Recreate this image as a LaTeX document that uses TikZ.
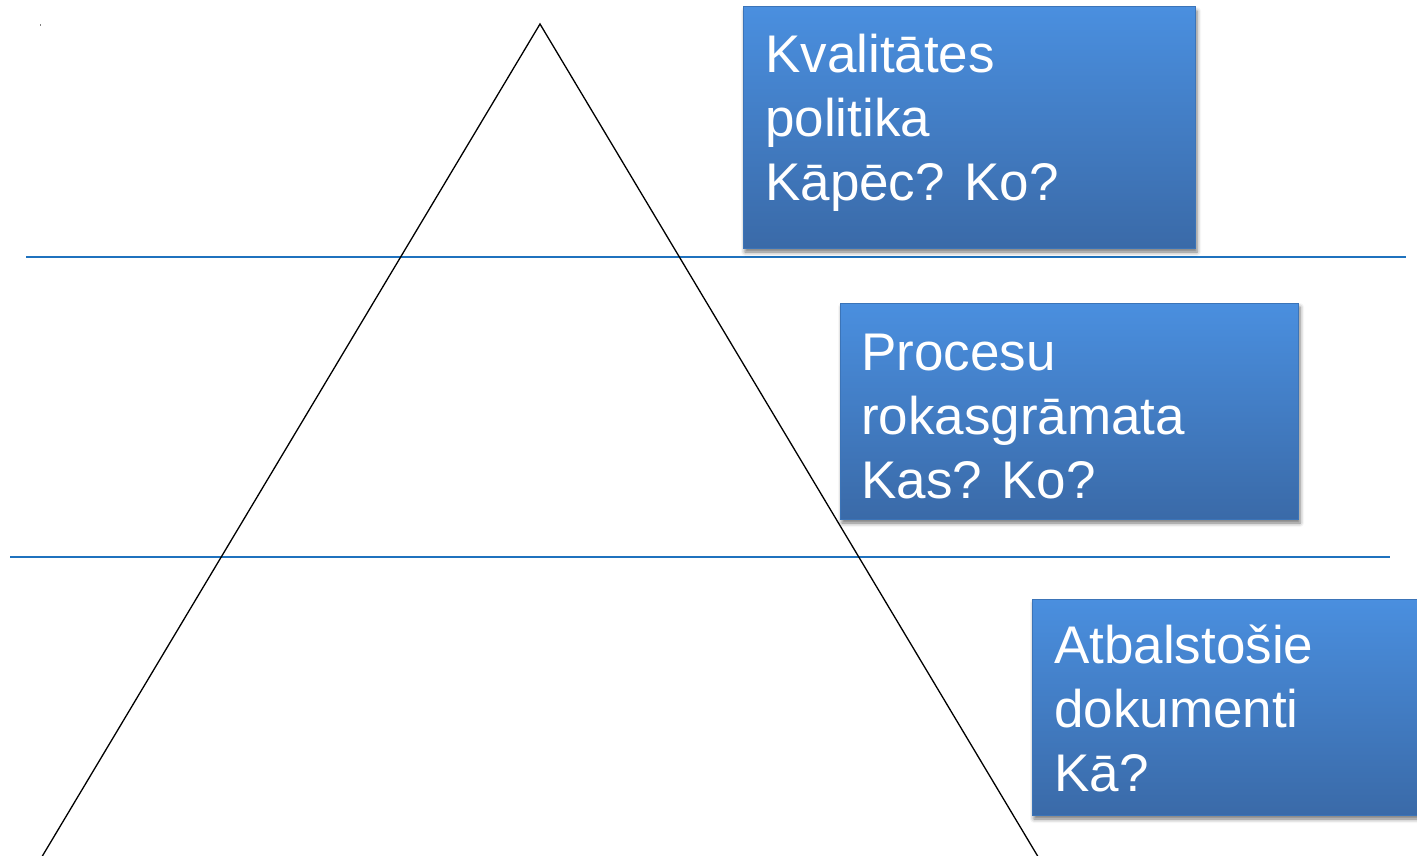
\documentclass[tikz,border=0pt]{standalone}
\usepackage{fontspec}
\setmainfont{Liberation Sans}
\usetikzlibrary{shadows.blur}
\definecolor{rule}{HTML}{1F72BE}
\definecolor{boxtop}{HTML}{4A8FDF}
\definecolor{boxbot}{HTML}{3A6AA8}
\definecolor{boxedge}{HTML}{3B74B8}
\tikzset{
  levelbox/.style={draw=boxedge, line width=1pt, top color=boxtop, bottom color=boxbot,
    blur shadow={shadow xshift=2pt, shadow yshift=-4pt, shadow blur radius=4pt, shadow opacity=55}},
  levellabel/.style={anchor=north west, inner sep=0pt, align=left, text=white,
    font=\fontsize{53}{64}\selectfont},
  divider/.style={draw=rule, line width=1.8pt},
  pyramid/.style={draw=black, line width=1.3pt, line join=miter}
}
\newcommand{\firstline}{\rule{0pt}{48pt}}
\begin{document}
\begin{tikzpicture}[x=1pt, y=-1pt]
  \useasboundingbox (0,0) rectangle (1417,856);
  % small mark in the corner
  \fill[gray] (40,24) rectangle (41,26);
  % level dividers
  \coordinate (d1a) at (26,257);
  \coordinate (d1b) at (1406,257);
  \coordinate (d2a) at (10,557);
  \coordinate (d2b) at (1390,557);
  \draw[divider] (d1a) -- (d1b);
  \draw[divider] (d2a) -- (d2b);
  % pyramid outline
  \coordinate (apex) at (540,24);
  \coordinate (bl) at (40,860);
  \coordinate (br) at (1040,860);
  \draw[pyramid] (bl) -- (apex) -- (br);
  % level boxes
  \path[levelbox] (743,7) rectangle (1195,248) node[coordinate] (b1) {};
  \path[levelbox] (840,303) rectangle (1298,519) node[coordinate] (b2) {};
  \path[levelbox] (1032,599) rectangle (1425,815) node[coordinate] (b3) {};
  % box texts
  \node[levellabel] (t1) at (765,24) {\firstline Kvalitātes\\politika\\Kāpēc? Ko?};
  \node[levellabel] (t2) at (861,322) {\firstline Procesu\\rokasgrāmata\\Kas? Ko?};
  \node[levellabel] (t3) at (1054,615) {\firstline Atbalstošie\\dokumenti\\Kā?};
\end{tikzpicture}
\end{document}
